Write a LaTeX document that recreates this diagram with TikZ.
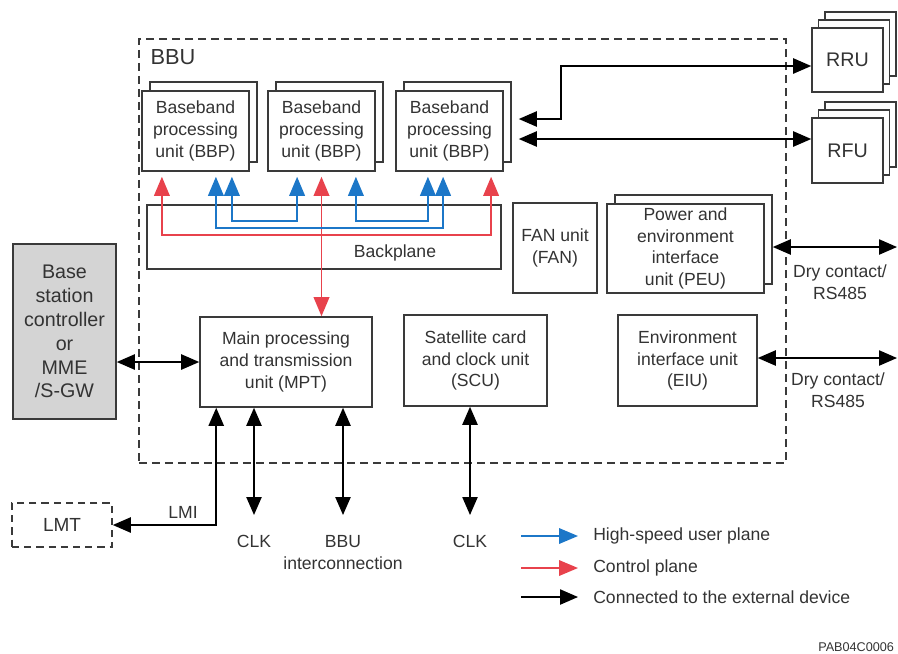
\documentclass[tikz,border=0pt]{standalone}
\usepackage{fontspec}
\setmainfont{Liberation Sans}
\definecolor{bbInk}{HTML}{333333}
\definecolor{bbLine}{HTML}{3A3A3A}
\definecolor{bbBlue}{HTML}{1C77C8}
\definecolor{bbRed}{HTML}{E8424C}
\definecolor{bbGray}{HTML}{D4D4D4}
\usetikzlibrary{arrows.meta,positioning,calc,shadows}

\begin{document}
\begin{tikzpicture}[
  x=0.25mm, y=-0.25mm,
  font=\fontsize{12.5}{15.5}\selectfont,
  box/.style={draw=bbLine,line width=1.1pt,fill=white,text=bbInk,align=center,inner sep=1pt},
  bbpbox/.style={box,copy shadow={shadow xshift=2mm,shadow yshift=2.25mm}},
  radiobox/.style={box,font=\fontsize{14}{17}\selectfont,
    copy shadow={shadow xshift=3.25mm,shadow yshift=4mm},
    copy shadow={shadow xshift=1.6mm,shadow yshift=2mm}},
  lmtbox/.style={box,dash pattern=on 1.8mm off 1.25mm,font=\fontsize{13.5}{16}\selectfont},
  lbl/.style={text=bbInk,align=center,inner sep=0pt},
  ext/.style={draw=black,line width=1.2pt,>={Triangle[length=4.5mm,width=3.8mm]},<->},
  ctrl/.style={draw=bbRed,line width=1.1pt,>={Triangle[length=4.75mm,width=3.9mm]},<->,
    shorten <=1.25mm,shorten >=1.25mm},
  user/.style={ctrl,draw=bbBlue}
]
\useasboundingbox (0,0) rectangle (898,653);
\node[draw=bbLine,line width=1.1pt,dash pattern=on 2mm off 1.25mm,
  minimum width=161.75mm,minimum height=106mm] (bbu) at (462.5,251) {};
\node[lbl,anchor=north west,font=\fontsize{15.5}{18}\selectfont] (bbutxt)
  at ([shift={(3mm,-2.75mm)}]bbu.north west) {BBU};
\foreach \i/\cx in {1/195.5,2/321.5,3/449.5}
{
  \node[bbpbox,minimum width=26.75mm,minimum height=20mm] (bbp\i) at (\cx,131)
    {Baseband\\processing\\unit (BBP)};
}
\node[box,minimum width=88.5mm,minimum height=16mm] (bp) at (324,237) {};
\node[lbl] (bptxt) at (395,253) {Backplane};
\node[box,minimum width=21mm,minimum height=22.5mm] (fan) at (555,248) {FAN unit\\(FAN)};
\node[bbpbox,minimum width=39.25mm,minimum height=22.25mm] (peu) at (685.5,248.5)
  {Power and\\environment\\interface\\unit (PEU)};
\node[radiobox,minimum width=17.75mm,minimum height=16mm] (rru) at (847.5,60) {RRU};
\node[radiobox,minimum width=17.75mm,minimum height=16.25mm] (rfu) at (847.5,150.5) {RFU};
\node[box,fill=bbGray,font=\fontsize{14}{17}\selectfont,minimum width=25.75mm,
  minimum height=43.75mm] (bsc) at (64.5,331.5) {Base\\station\\controller\\or\\MME\\/S-GW};
\node[box,minimum width=43mm,minimum height=22.5mm] (mpt) at (286,362)
  {Main processing\\and transmission\\unit (MPT)};
\node[box,minimum width=35.75mm,minimum height=22.75mm] (scu) at (475.5,360.5)
  {Satellite card\\and clock unit\\(SCU)};
\node[box,minimum width=34.75mm,minimum height=22.75mm] (eiu) at (687.5,360.5)
  {Environment\\interface unit\\(EIU)};
\node[lmtbox,minimum width=25mm,minimum height=11mm] (lmt) at (62,525) {LMT};

\node[lbl] (dct1) at (840,282) {Dry contact/\\RS485};
\node[lbl] (dct2) at (838,390) {Dry contact/\\RS485};
\node[lbl] (lmi) at (183,512) {LMI};
\node[lbl,anchor=north] (clk1) at (254,535) {CLK};
\node[lbl,anchor=north] (bbuic) at (343,535) {BBU\\interconnection};
\node[lbl,anchor=north] (clk2) at (470,535) {CLK};
\coordinate (dc1) at (897,247);
\coordinate (dc2) at (897,358);
\coordinate (b3r) at ($(bbp3.east)+(15,-12)$);
\coordinate (b3f) at ($(bbp3.east)+(15,8)$);

\draw[ctrl] ([xshift=-8.4mm]bbp1.south) -- ++(0,63) -| ([xshift=10.4mm]bbp3.south);
\draw[ctrl,shorten >=0pt] (bbp2.south) -- (bbp2.south |- mpt.north);
\draw[user] ([xshift=5.1mm]bbp1.south) -- ++(0,56) -| ([xshift=-1.6mm]bbp3.south);
\draw[user] ([xshift=9.1mm]bbp1.south) -- ++(0,49) -| ([xshift=-6.1mm]bbp2.south);
\draw[user] ([xshift=8.6mm]bbp2.south) -- ++(0,49) -| ([xshift=-5.4mm]bbp3.south);

\draw[ext] (b3r) -- ++(42,0) |- ([yshift=-1.5mm]rru.west);
\draw[ext] (b3f) -- (b3f -| rfu.west);
\draw[ext] ([xshift=2mm]dc1 -| peu.east) -- (dc1);
\draw[ext] (dc2 -| eiu.east) -- (dc2);
\draw[ext] (bsc.east |- mpt.west) -- (mpt.west);
\draw[ext] ([xshift=4.25mm]mpt.south west) |- (lmt.east);
\draw[ext] (mpt.south -| clk1) -- ([yshift=5mm]clk1.north);
\draw[ext] (mpt.south -| bbuic) -- ([yshift=5mm]bbuic.north);
\draw[ext] (scu.south -| clk2) -- ([yshift=5mm]clk2.north);

\node[lbl,anchor=west] (leg1) at (593,536) {High-speed user plane};
\node[lbl,anchor=west] (leg2) at (593,568) {Control plane};
\node[lbl,anchor=west] (leg3) at (593,597) {Connected to the external device};
\draw[user,->,shorten <=0pt,shorten >=0pt] ([xshift=-18mm]leg1.west) -- ([xshift=-3.75mm]leg1.west);
\draw[ctrl,->,shorten <=0pt,shorten >=0pt] ([xshift=-18mm]leg2.west) -- ([xshift=-3.75mm]leg2.west);
\draw[ext,->] ([xshift=-18mm]leg3.west) -- ([xshift=-3.75mm]leg3.west);
\node[lbl,anchor=west,font=\fontsize{9}{10}\selectfont] (figid) at (818,647) {PAB04C0006};
\end{tikzpicture}
\end{document}
